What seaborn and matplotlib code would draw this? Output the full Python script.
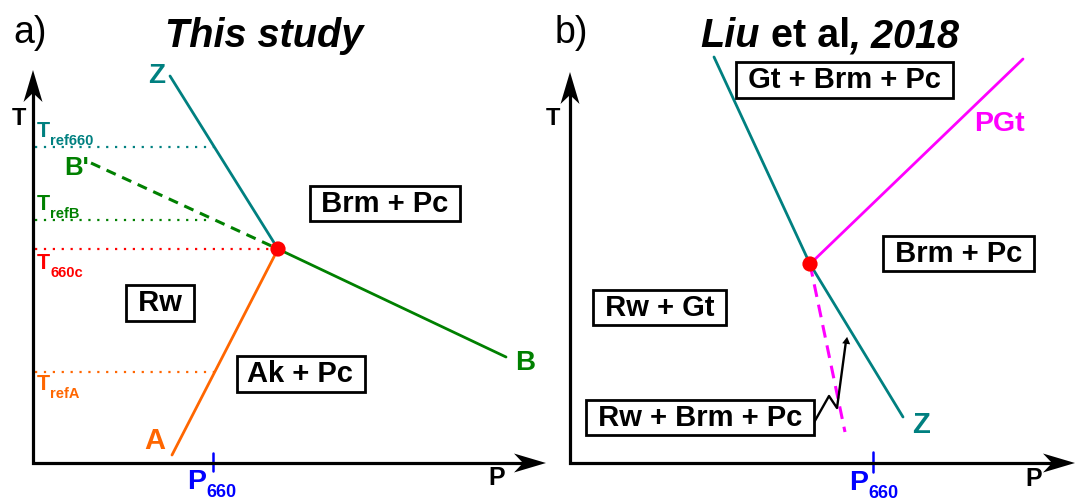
import numpy as np
import matplotlib
matplotlib.use("Agg")
import matplotlib.pyplot as plt
from matplotlib.patches import Polygon
import seaborn as sns

sns.set_theme(style="white")
plt.rcParams["font.family"] = ["Liberation Sans", "DejaVu Sans"]
plt.rcParams["text.color"] = "black"

# ---------------- schematic P-T coordinates (arbitrary units) ----------------
# panel a: this study
TRIPLE_A_P, TRIPLE_A_T = 245, 214
Z_A_P = [137, 245]
Z_A_T = [387, 214]
B_A_P = [245, 473]
B_A_T = [214, 106]
A_A_P = [139, 245]
A_A_T = [8, 214]
BPRIME_P = [58, 245]
BPRIME_T = [300, 214]
T_REF660 = 316
T_REFB = 243
T_660C = 214
T_REFA = 91
P660_A = 180

# panel b: Liu et al. (2018)
TRIPLE_B_P, TRIPLE_B_T = 240, 199
Z_B_P = [144, 240, 333]
Z_B_T = [406, 199, 46]
PGT_P = [240, 453]
PGT_T = [199, 404]
PGT_META_P = [240, 275]
PGT_META_T = [199, 31]
LEADER_P = [242, 259, 267, 276]
LEADER_T = [37, 67, 55, 122]
P660_B = 303

TEAL = "#008080"
GREEN = "#008000"
ORANGE = "#FF6600"
RED = "#FF0000"
MAGENTA = "#FF00FF"
BLUE = "#0000FF"

fig = plt.figure(figsize=(10.75, 5.01), dpi=100)
ax_a = fig.add_axes([0, 0, 0.5, 1])
ax_b = fig.add_axes([0.5, 0, 0.5, 1])
ax_a.set_xlim(-33, 504.5)
ax_b.set_xlim(-32.5, 505)
for ax in (ax_a, ax_b):
    ax.set_ylim(-38, 463)
    ax.axis("off")


def line(ax, p, t, color, lw=2.0, ls="-", z=2):
    sns.lineplot(x=p, y=t, sort=False, estimator=None, ax=ax, color=color,
                 linewidth=lw, linestyle=ls, zorder=z)


def axis_arrows(ax, p_tip, t_tip):
    ax.plot([0, 0, p_tip - 20], [t_tip - 20, 0, 0], color="black", lw=2.3,
            solid_joinstyle="miter", solid_capstyle="butt", clip_on=False, zorder=3)
    L, W, notch = 32, 9.5, 23
    for tip, d in (((p_tip, 0), (1, 0)), ((0, t_tip), (0, 1))):
        tip = np.array(tip, float)
        d = np.array(d, float)
        n = np.array([-d[1], d[0]])
        pts = [tip, tip - L * d + W * n, tip - notch * d, tip - L * d - W * n]
        ax.add_patch(Polygon(pts, closed=True, color="black", lw=0,
                             clip_on=False, zorder=3))


def crossing(p, t, level):
    order = np.argsort(t)
    return np.interp(level, np.asarray(t)[order], np.asarray(p)[order])


def box(ax, p, t, s):
    ax.text(p, t, " " + s + " ", ha="center", va="center", fontsize=21,
            fontweight="bold", zorder=6,
            bbox=dict(boxstyle="square,pad=0.13", fc="white", ec="black", lw=2.0))


def subscripted(ax, p, t, base, sub, color, size, sub_size, drop):
    ax.text(p, t, base, color=color, fontsize=size, fontweight="bold",
            ha="left", va="baseline")
    width = 0.667 * size * 100 / 72 if base == "P" else 0.611 * size * 100 / 72
    ax.text(p + width, t - drop, sub, color=color, fontsize=sub_size,
            fontweight="bold", ha="left", va="baseline")


def tref(ax, t_line, sub, color):
    subscripted(ax, 4, t_line + 10, "T", sub, color, 15.5, 10.5, 8)


# ---------------- panel a ----------------
axis_arrows(ax_a, 513, 393)
line(ax_a, Z_A_P, Z_A_T, TEAL)
line(ax_a, B_A_P, B_A_T, GREEN)
line(ax_a, A_A_P, A_A_T, ORANGE)
line(ax_a, BPRIME_P, BPRIME_T, GREEN, lw=2.2, ls=(0, (3.3, 2.3)))

dotted = (0, (1, 3))
line(ax_a, [2, crossing(Z_A_P, Z_A_T, T_REF660)], [T_REF660, T_REF660], TEAL, lw=1.6, ls=dotted)
line(ax_a, [2, crossing(BPRIME_P, BPRIME_T, T_REFB) - 5], [T_REFB, T_REFB], GREEN, lw=1.6, ls=dotted)
line(ax_a, [2, TRIPLE_A_P], [T_660C, T_660C], RED, lw=1.6, ls=dotted)
line(ax_a, [2, crossing(A_A_P, A_A_T, T_REFA)], [T_REFA, T_REFA], ORANGE, lw=1.6, ls=dotted)

sns.scatterplot(x=[TRIPLE_A_P], y=[TRIPLE_A_T], s=120, color=RED, edgecolor="none",
                ax=ax_a, zorder=5)

tref(ax_a, T_REF660, "ref660", TEAL)
tref(ax_a, T_REFB, "refB", GREEN)
tref(ax_a, T_660C - 30, "660c", RED)
tref(ax_a, T_REFA - 28, "refA", ORANGE)

line(ax_a, [P660_A, P660_A], [10, -8], BLUE, lw=1.8)
subscripted(ax_a, P660_A - 26, -26, "P", "660", BLUE, 20.5, 13, 8)

ax_a.text(124, 387, "Z", color=TEAL, fontsize=20, fontweight="bold", ha="center", va="center")
ax_a.text(44, 295, "B'", color=GREEN, fontsize=18.5, fontweight="bold", ha="center", va="center")
ax_a.text(492, 100, "B", color=GREEN, fontsize=20, fontweight="bold", ha="center", va="center")
ax_a.text(122, 22, "A", color=ORANGE, fontsize=21, fontweight="bold", ha="center", va="center")

ax_a.text(-14.5, 345, "T", fontsize=17, fontweight="bold", ha="center", va="center")
ax_a.text(464, -15, "P", fontsize=18, fontweight="bold", ha="center", va="center")

box(ax_a, 352, 259.5, "Brm + Pc")
box(ax_a, 127, 160, "Rw")
box(ax_a, 268, 89, "Ak + Pc")

ax_a.text(-20, 420, "a)", fontsize=27, ha="left", va="baseline")
ax_a.text(231.5, 416, "This study", fontsize=28.5, fontweight="bold", style="italic",
          ha="center", va="baseline")

# ---------------- panel b ----------------
axis_arrows(ax_b, 505, 391)
line(ax_b, Z_B_P, Z_B_T, TEAL)
line(ax_b, PGT_P, PGT_T, MAGENTA)
line(ax_b, PGT_META_P, PGT_META_T, MAGENTA, lw=2.2, ls=(0, (4.2, 2.6)))
line(ax_b, LEADER_P, LEADER_T, "black", lw=1.7, z=4)
ang = np.degrees(np.arctan2(LEADER_T[-1] - LEADER_T[-2], LEADER_P[-1] - LEADER_P[-2])) - 90
ax_b.scatter([LEADER_P[-1]], [LEADER_T[-1]], marker=(3, 0, ang), s=45, color="black",
             zorder=4, lw=0)

sns.scatterplot(x=[TRIPLE_B_P], y=[TRIPLE_B_T], s=120, color=RED, edgecolor="none",
                ax=ax_b, zorder=5)

line(ax_b, [P660_B, P660_B], [11, -9], BLUE, lw=1.8)
subscripted(ax_b, P660_B - 24, -27, "P", "660", BLUE, 20.5, 13, 8)

ax_b.text(351, 38, "Z", color=TEAL, fontsize=21, fontweight="bold", ha="center", va="center")
ax_b.text(429, 339, "PGt", color=MAGENTA, fontsize=20.5, fontweight="bold", ha="center", va="center")

ax_b.text(-17, 345, "T", fontsize=17, fontweight="bold", ha="center", va="center")
ax_b.text(464, -16, "P", fontsize=18, fontweight="bold", ha="center", va="center")

box(ax_b, 274.5, 383, "Gt + Brm + Pc")
box(ax_b, 388.5, 209.5, "Brm + Pc")
box(ax_b, 89.5, 155.5, "Rw + Gt")
box(ax_b, 130, 45.5, "Rw + Brm + Pc")

ax_b.text(-15, 420, "b)", fontsize=27, ha="left", va="baseline")
t1 = ax_b.text(130, 416, "Liu", fontsize=28.5, fontweight="bold", style="italic",
               ha="left", va="baseline")
t2 = ax_b.annotate(" et al", xy=(1, 0), xycoords=t1, fontsize=28.5, fontweight="bold",
                   ha="left", va="bottom")
ax_b.annotate(", 2018", xy=(1, 0), xycoords=t2, fontsize=28.5, fontweight="bold",
              style="italic", ha="left", va="bottom")

fig.savefig("out.png", dpi=100, facecolor="white")
